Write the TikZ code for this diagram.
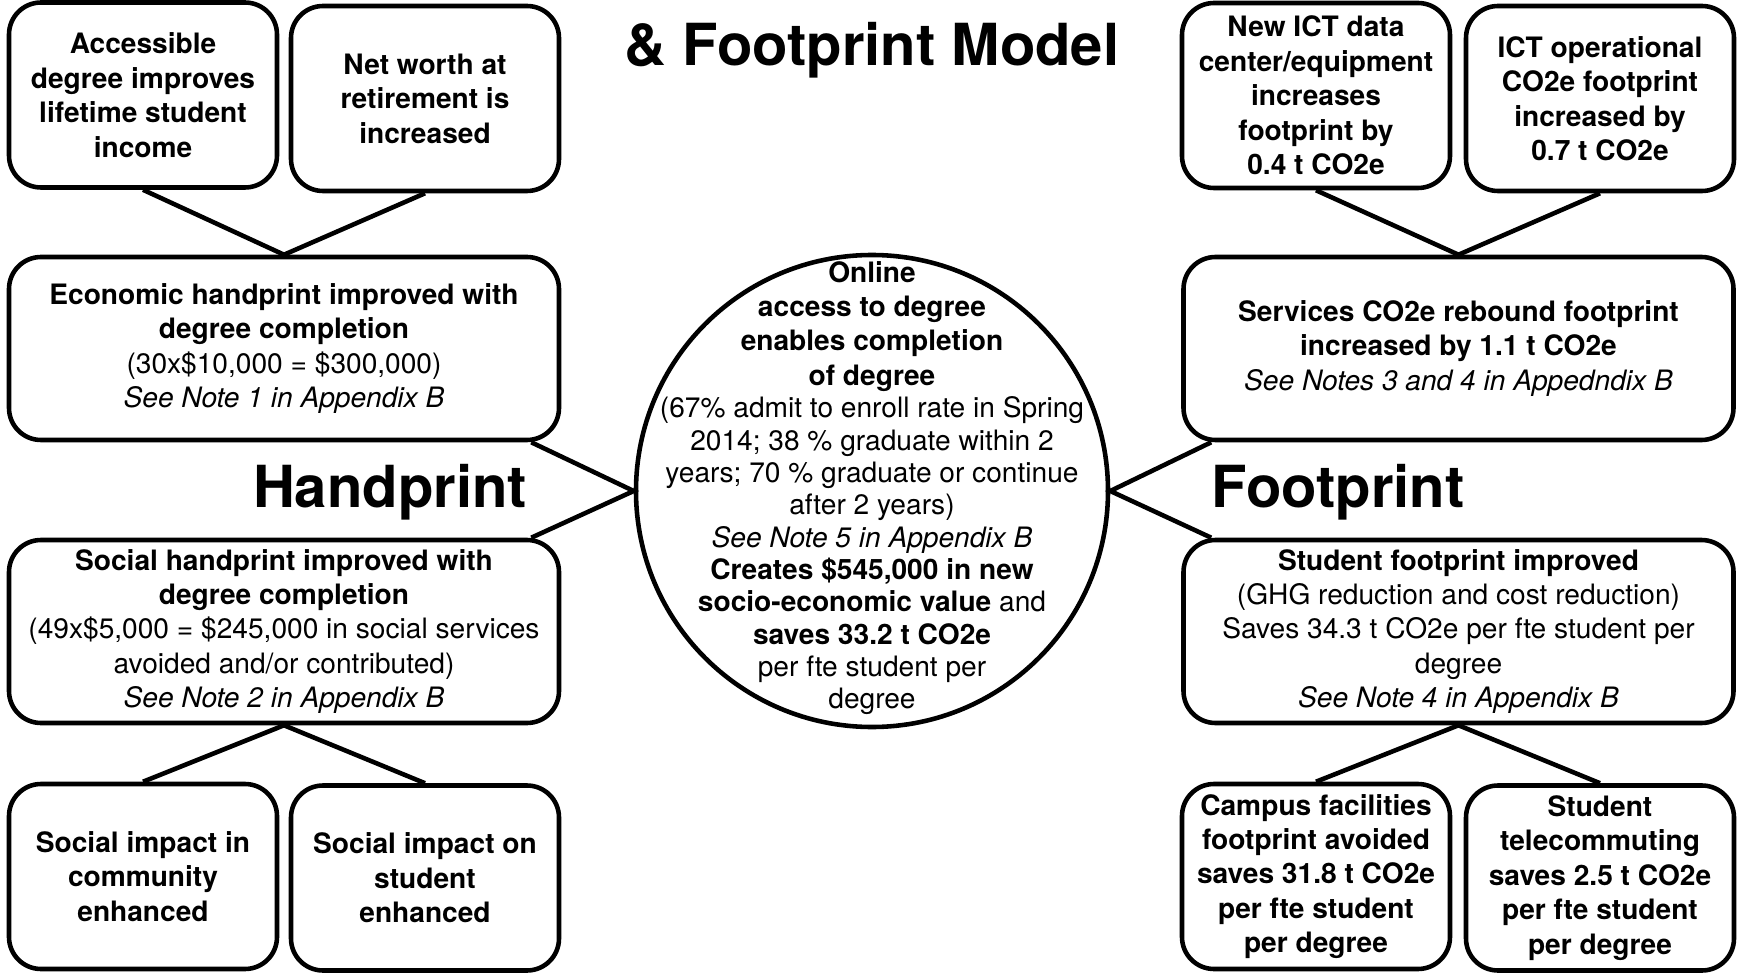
\documentclass[tikz,border=0pt]{standalone}
\usepackage{fontspec}
\setmainfont{TeX Gyre Heros}

\begin{document}
\begin{tikzpicture}[
    box/.style={draw, line width=1.3pt, rounded corners=3.2mm, align=center, inner sep=2pt,
        font=\fontsize{8}{9.8}\selectfont},
    small/.style={box, minimum width=2.68cm, minimum height=1.85cm,
        font=\fontsize{8}{9.8}\selectfont\bfseries},
    wide/.style={box, minimum width=5.5cm, minimum height=1.83cm},
    hub/.style={draw, circle, line width=1.3pt, minimum size=4.72cm, inner sep=0pt},
    big/.style={anchor=base, font=\fontsize{16.5}{20}\selectfont\bfseries},
    link/.style={line width=1.3pt}
]
    \useasboundingbox (0,0) rectangle (17.37,9.72);

    % Title
    \node[big] (title) at (8.72,9.06) {\& Footprint Model};

    % Centre circle
    \node[hub] (hub) at (8.72,4.81) {};
    \node[align=center, font=\fontsize{8}{9.2}\selectfont] (hubtext) at ([yshift=0.3mm]hub.center)
        {\textbf{Online}\\[0.6pt]\textbf{access to degree}\\[0.6pt]\textbf{enables completion}\\[0.6pt]\textbf{of degree}\\
         (67\% admit to enroll rate in Spring\\2014; 38 \% graduate within 2\\
         years; 70 \% graduate or continue\\after 2 years)\\
         \textit{See Note 5 in Appendix B}\\
         \textbf{Creates \$545,000 in new}\\\textbf{socio-economic value} and\\
         \textbf{saves 33.2 t CO2e}\\per fte student per\\degree};

    % Handprint side
    \node[big] (hand) at (3.90,4.65) {Handprint};
    \node[small] (acc) at (1.43,8.77) {Accessible\\degree improves\\lifetime student\\income};
    \node[small] (net) at (4.25,8.735) {Net worth at\\retirement is\\increased};
    \node[wide] (econ) at (2.84,6.235)
        {\textbf{Economic handprint improved with}\\\textbf{degree completion}\\
         (30x\$10,000 = \$300,000)\\\textit{See Note 1 in Appendix B}};
    \node[wide] (social) at (2.84,3.405)
        {\textbf{Social handprint improved with}\\\textbf{degree completion}\\
         (49x\$5,000 = \$245,000 in social services\\avoided and/or contributed)\\
         \textit{See Note 2 in Appendix B}};
    \node[small] (comm) at (1.43,0.955) {Social impact in\\community\\enhanced};
    \node[small] (stud) at (4.25,0.94) {Social impact on\\student\\enhanced};

    % Footprint side
    \node[big] (foot) at (13.38,4.65) {Footprint};
    \node[small] (ict) at (13.16,8.765) {New ICT data\\center/equipment\\increases\\footprint by\\0.4 t CO2e};
    \node[small] (ops) at (16.00,8.735) {ICT operational\\CO2e footprint\\increased by\\0.7 t CO2e};
    \node[wide] (serv) at (14.585,6.235)
        {\textbf{Services CO2e rebound footprint}\\\textbf{increased by 1.1 t CO2e}\\
         \textit{See Notes 3 and 4 in Appedndix B}};
    \node[wide] (sfoot) at (14.585,3.405)
        {\textbf{Student footprint improved}\\(GHG reduction and cost reduction)\\
         Saves 34.3 t CO2e per fte student per\\degree\\
         \textit{See Note 4 in Appendix B}};
    \node[small] (campus) at (13.16,0.955) {Campus facilities\\footprint avoided\\saves 31.8 t CO2e\\per fte student\\per degree};
    \node[small] (tele) at (16.00,0.94) {Student\\telecommuting\\saves 2.5 t CO2e\\per fte student\\per degree};

    % Connectors
    \draw[link] (acc.south) -- (econ.north) -- (net.south);
    \draw[link] (comm.north) -- (social.south) -- (stud.north);
    \draw[link] ([xshift=-3mm]econ.south east) -- (hub.west) -- ([xshift=-3mm]social.north east);
    \draw[link] (ict.south) -- (serv.north) -- (ops.south);
    \draw[link] (campus.north) -- (sfoot.south) -- (tele.north);
    \draw[link] ([xshift=3mm]serv.south west) -- (hub.east) -- ([xshift=3mm]sfoot.north west);
\end{tikzpicture}
\end{document}
